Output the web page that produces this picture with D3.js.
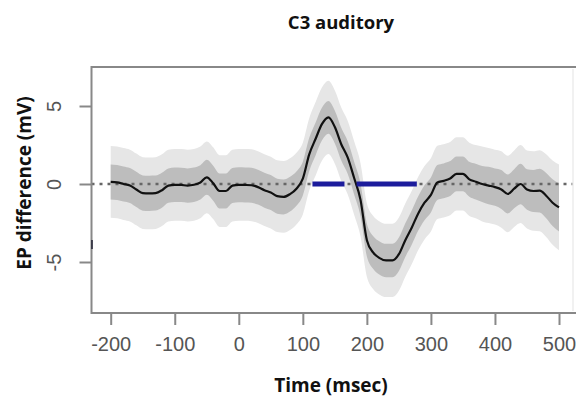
<!DOCTYPE html>
<html>
<head>
<meta charset="utf-8">
<script src="https://cdn.jsdelivr.net/npm/d3@7"></script>
<style>
  body { margin: 0; background: #fff; }
  .title { font-family: "Open Sans", sans-serif; font-weight: bold; fill: #111; }
</style>
</head>
<body>
<div class="epchart"></div>
<script>
'use strict';

// time axis samples (msec), every 10 ms
var times = d3.range(-200, 501, 10);

// mean EP difference (mV)
var meanEP = [
   0.13,  0.10,  0.00, -0.10, -0.35, -0.58, -0.60, -0.58, -0.40, -0.10,
  -0.05, -0.06, -0.10, -0.05,  0.10,  0.43,  0.05, -0.45, -0.45, -0.10,
  -0.05, -0.06, -0.08, -0.20, -0.40, -0.55, -0.78, -0.83, -0.65, -0.30,
   0.35,  1.90,  2.90,  3.85,  4.27,  3.65,  2.55,  1.70,  0.40, -1.00,
  -3.60, -4.40, -4.75, -4.90, -4.90, -4.50, -3.60, -2.80, -1.90, -1.20,
  -0.70,  0.10,  0.20,  0.35,  0.65,  0.65,  0.30,  0.15,  0.00, -0.10,
  -0.20, -0.35, -0.64, -0.30,  0.00, -0.35, -0.45, -0.43, -0.75, -1.20,
  -1.50
];

// half widths of the inner (dark) and outer (light) bands
var innerHalf = [
  1.12, 1.12, 1.12, 1.12, 1.13, 1.13, 1.13, 1.12, 1.12, 1.10,
  1.10, 1.10, 1.10, 1.10, 1.10, 1.12, 1.12, 1.12, 1.12, 1.12,
  1.12, 1.12, 1.12, 1.12, 1.12, 1.12, 1.12, 1.12, 1.12, 1.10,
  1.08, 1.06, 1.05, 1.05, 1.05, 1.05, 1.05, 1.05, 1.05, 1.05,
  1.05, 1.05, 1.07, 1.07, 1.07, 1.07, 1.08, 1.10, 1.10, 1.12,
  1.12, 1.12, 1.12, 1.12, 1.12, 1.12, 1.12, 1.15, 1.15, 1.20,
  1.20, 1.25, 1.25, 1.25, 1.30, 1.30, 1.35, 1.40, 1.45, 1.50,
  1.55
];
var outerHalf = [
  2.30, 2.30, 2.30, 2.30, 2.30, 2.30, 2.30, 2.30, 2.30, 2.30,
  2.30, 2.30, 2.30, 2.30, 2.30, 2.30, 2.30, 2.30, 2.30, 2.30,
  2.30, 2.30, 2.30, 2.30, 2.30, 2.30, 2.30, 2.30, 2.30, 2.30,
  2.30, 2.32, 2.35, 2.35, 2.35, 2.35, 2.35, 2.35, 2.35, 2.35,
  2.35, 2.35, 2.35, 2.35, 2.35, 2.35, 2.35, 2.35, 2.35, 2.35,
  2.35, 2.35, 2.35, 2.35, 2.35, 2.35, 2.35, 2.35, 2.40, 2.40,
  2.40, 2.45, 2.45, 2.45, 2.50, 2.50, 2.55, 2.60, 2.65, 2.70,
  2.75
];

// significant intervals (msec), drawn on the zero line
var sigStart = [115, 184];
var sigEnd = [165, 278];

var xTicks = [-200, -100, 0, 100, 200, 300, 400, 500];
var yTicks = [-5, 0, 5];

var width = 576, height = 398;

var svg = d3.select(".epchart")
            .append("svg")
            .attr("width", width)
            .attr("height", height);

var x = d3.scaleLinear().domain([-200, 500]).range([110.7, 559]);
var y = d3.scaleLinear().domain([-5, 5]).range([262, 106]);

// plot frame edges
var box = {left: 91.5, top: 67, bottom: 313, right: 573};

var rows = times.map(function(t, i){
      return {t: t, m: meanEP[i], a: innerHalf[i], b: outerHalf[i]};
});

// outer band
svg.append("path")
   .datum(rows)
   .attr("fill", "#e6e6e6")
   .attr("d", d3.area()
                .x(function(d){ return x(d.t); })
                .y0(function(d){ return y(d.m - d.b); })
                .y1(function(d){ return y(d.m + d.b); })
                .curve(d3.curveMonotoneX));

// inner band
svg.append("path")
   .datum(rows)
   .attr("fill", "#bdbdbd")
   .attr("d", d3.area()
                .x(function(d){ return x(d.t); })
                .y0(function(d){ return y(d.m - d.a); })
                .y1(function(d){ return y(d.m + d.a); })
                .curve(d3.curveMonotoneX));

// dotted zero line
svg.append("line")
   .attr("x1", box.left).attr("x2", box.right)
   .attr("y1", y(0)).attr("y2", y(0))
   .attr("stroke", "#666")
   .attr("stroke-width", 2.5)
   .attr("stroke-dasharray", "3,5");

// mean trace
svg.append("path")
   .datum(rows)
   .attr("fill", "none")
   .attr("stroke", "#111")
   .attr("stroke-width", 2.2)
   .attr("d", d3.line()
                .x(function(d){ return x(d.t); })
                .y(function(d){ return y(d.m); })
                .curve(d3.curveMonotoneX));

// significance bars
svg.selectAll("line.sig")
   .data(sigStart)
   .enter().append("line")
   .attr("class", "sig")
   .attr("x1", function(d){ return x(d); })
   .attr("x2", function(d, i){ return x(sigEnd[i]); })
   .attr("y1", y(0)).attr("y2", y(0))
   .attr("stroke", "#1c1c9c")
   .attr("stroke-width", 5);

// frame
svg.append("path")
   .attr("fill", "none")
   .attr("stroke", "#888")
   .attr("stroke-width", 2)
   .attr("d", "M" + width + "," + box.top + "H" + box.left + "V" + box.bottom + "H" + width);
svg.append("line")
   .attr("x1", box.right).attr("x2", box.right)
   .attr("y1", box.top + 2).attr("y2", box.bottom - 2)
   .attr("stroke", "#ececec")
   .attr("stroke-width", 1.5);

// small stray mark on the left edge
svg.append("line")
   .attr("x1", 92).attr("x2", 92)
   .attr("y1", 240).attr("y2", 249)
   .attr("stroke", "#223")
   .attr("stroke-width", 1.5);

// x axis
var xAxis = svg.append("g")
               .attr("transform", "translate(0," + box.bottom + ")")
               .call(d3.axisBottom(x).tickValues(xTicks).tickSize(12).tickPadding(12)
                       .tickFormat(function(d){ return d < 0 ? "-" + Math.abs(d) : d; }));
xAxis.select(".domain").remove();
xAxis.selectAll("line").attr("stroke", "#888").attr("stroke-width", 2);
xAxis.selectAll("text")
     .attr("font-size", 20)
     .style("font-family", "'Liberation Sans', Arial, sans-serif")
     .attr("fill", "#555");

// y axis
var yAxis = svg.append("g")
               .attr("transform", "translate(" + box.left + ",0)")
               .call(d3.axisLeft(y).tickValues(yTicks).tickSize(12).tickFormat(function(d){ return d < 0 ? "-" + Math.abs(d) : d; }));
yAxis.select(".domain").remove();
yAxis.selectAll("line").attr("stroke", "#888").attr("stroke-width", 2);
yAxis.selectAll("text")
     .attr("x", 0).attr("dy", 0)
     .attr("transform", "translate(-31,0) rotate(-90)")
     .attr("text-anchor", "middle")
     .attr("font-size", 20)
     .style("font-family", "'Liberation Sans', Arial, sans-serif")
     .attr("fill", "#555");

// titles
svg.append("text")
   .attr("class", "title")
   .attr("x", 341).attr("y", 29)
   .attr("text-anchor", "middle")
   .attr("font-size", 18.5)
   .text("C3 auditory");

svg.append("text")
   .attr("class", "title")
   .attr("x", 331).attr("y", 392)
   .attr("text-anchor", "middle")
   .attr("font-size", 19)
   .text("Time (msec)");

svg.append("text")
   .attr("class", "title")
   .attr("transform", "translate(31,183) rotate(-90)")
   .attr("text-anchor", "middle")
   .attr("font-size", 19)
   .text("EP difference (mV)");
</script>
</body>
</html>
